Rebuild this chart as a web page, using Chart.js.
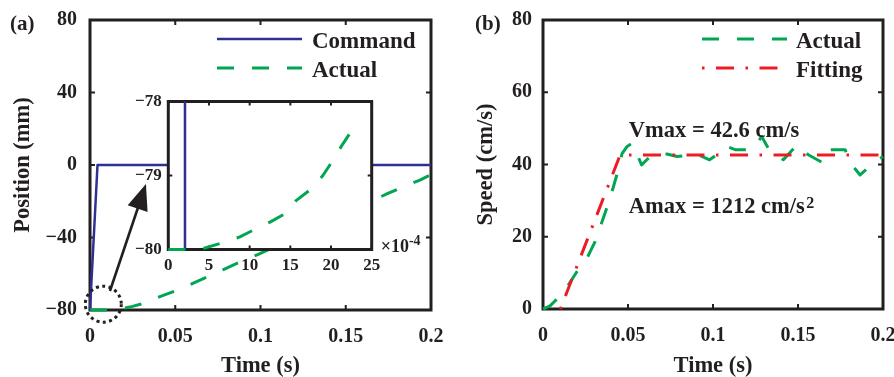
<!DOCTYPE html>
<html>
<head>
<meta charset="utf-8">
<script src="https://cdn.jsdelivr.net/npm/chart.js@4.4.1/dist/chart.umd.min.js"></script>
<style>
  html, body { margin: 0; padding: 0; background: #fff; }
  #wrap { position: relative; width: 894px; height: 377px; overflow: hidden; background: #fff; }
  #wrap canvas { position: absolute; }
  #chart-pos   { left: 0; top: 0; }
  #chart-speed { left: 447px; top: 0; }
  #chart-zoom  { left: 120px; top: 88px; }
</style>
</head>
<body>
<div id="wrap">
  <canvas id="chart-pos" width="447" height="377"></canvas>
  <canvas id="chart-speed" width="447" height="377"></canvas>
  <canvas id="chart-zoom" width="310" height="200"></canvas>
</div>
<script>
// ── Data ──────────────────────────────────────────────────────────────────────
// (a) position step: command vs measured (time in s, position in mm)
const cmdTime   = [0, 0.0044, 0.2];
const cmdPos    = [-80, 0, 0];
const posTime   = [0, 0.005, 0.01, 0.015, 0.0205, 0.025, 0.03, 0.035, 0.041, 0.0508, 0.0616,
                   0.0704, 0.0792, 0.088, 0.0987, 0.12, 0.14, 0.16, 0.1744, 0.1838, 0.1935, 0.2];
const posActual = [-80, -80, -80, -79.6, -78.9, -78.0, -76.7, -75.0, -72.6, -69.2, -64.8,
                   -61.1, -57.3, -53.5, -49.3, -40.0, -31.2, -22.2, -15.8, -12.0, -8.3, -5.3];

// (a) zoomed start (time in 1e-4 s)
const zoomCmdTime = [0, 2.05, 2.05];
const zoomCmdPos  = [-80, -80, -78];
const zoomTime    = [0, 1.84, 4.5, 6.3, 8.8, 10.4, 12.5, 14.3, 15.7, 17.6, 19.0, 20.2, 21.3, 22.5];
const zoomActual  = [-80, -80, -79.98, -79.92, -79.83, -79.74, -79.63, -79.52, -79.34, -79.18, -79.0, -78.8, -78.6, -78.4];

// (b) speed: measured vs trapezoid fit (cm/s)
const speedTime   = [0, 0.004, 0.0072, 0.011, 0.015, 0.020, 0.0259, 0.0307, 0.0358, 0.0398, 0.0437, 0.0465,
                     0.0495, 0.0525, 0.058, 0.063, 0.071, 0.079, 0.091, 0.098, 0.105, 0.108, 0.113, 0.1228,
                     0.1287, 0.1336, 0.1414, 0.1493, 0.156, 0.1649, 0.1688, 0.1777, 0.1816, 0.1865, 0.1943, 0.2];
const speedActual = [0, 0.8, 2.3, 4.5, 6.7, 10.4, 14.1, 18.7, 25.6, 31.2, 37.6, 43.0,
                     45.0, 45.9, 39.9, 42.2, 43.1, 42.2, 42.7, 41.3, 43.6, 45.0, 44.1, 44.1,
                     47.7, 43.6, 41.3, 45.4, 42.7, 40.4, 44.1, 44.1, 39.9, 37.1, 40.4, 42.2];
const VMAX = 42.6;   // cm/s
const AMAX = 1212;   // cm/s^2
const FIT_START = 0.0102;
const fitTime  = [FIT_START, FIT_START + VMAX / AMAX, 0.2];
const fitSpeed = [0, VMAX, VMAX];

// Tick positions
const timeTicks  = [0, 0.05, 0.1, 0.15, 0.2];
const posTicks   = [-80, -40, 0, 40, 80];
const speedTicks = [0, 20, 40, 60, 80];
const zoomXTicks = [0, 5, 10, 15, 20, 25];
const zoomYTicks = [-80, -79, -78];

// ── Style ─────────────────────────────────────────────────────────────────────
const INK   = '#231f20';
const BLUE  = '#2e3192';
const GREEN = '#00a651';
const RED   = '#ed1c24';
const SERIF = '"Liberation Serif", "Times New Roman", serif';
const DASH     = [17, 18];
const DASH_DOT = [2.5, 11.5, 18, 11.5];

const pts = (xs, ys) => xs.map((x, i) => ({ x, y: ys[i] }));
const minus = v => String(v).replace('-', '\u2212');

// fixed box sizes so the plot areas land where we want them
const fixWidth  = w => s => { s.width = w;  s.paddingTop = s.paddingBottom = s.paddingLeft = s.paddingRight = 0; };
const fixHeight = h => s => { s.height = h; s.paddingTop = s.paddingBottom = s.paddingLeft = s.paddingRight = 0; };
const useTicks  = arr => s => { s.ticks = arr.map(value => ({ value })); };

function line(data, color, width, dash) {
  return { data, borderColor: color, borderWidth: width, borderDash: dash || [],
           borderCapStyle: 'butt', borderJoinStyle: 'round',
           pointRadius: 0, tension: 0, fill: false, clip: false };
}

// ── Plugins ───────────────────────────────────────────────────────────────────
// box + inward ticks on all four sides, drawn under the curves
const framePlugin = {
  id: 'frame',
  beforeDraw(chart, args, o) {
    if (!o.fill) return;
    const a = chart.chartArea, ctx = chart.ctx;
    ctx.save(); ctx.fillStyle = o.fill;
    ctx.fillRect(a.left, a.top, a.width, a.height);
    ctx.restore();
  },
  beforeDatasetsDraw(chart, args, o) {
    const { ctx, chartArea: a, scales: { x, y } } = chart;
    const len = o.tickLen || 5;
    ctx.save();
    ctx.strokeStyle = INK;
    ctx.lineWidth = o.tickWidth || 2;
    ctx.beginPath();
    x.ticks.forEach(t => {
      const p = x.getPixelForValue(t.value);
      ctx.moveTo(p, a.bottom); ctx.lineTo(p, a.bottom - len);
      ctx.moveTo(p, a.top);    ctx.lineTo(p, a.top + len);
    });
    y.ticks.forEach(t => {
      const p = y.getPixelForValue(t.value);
      ctx.moveTo(a.left, p);  ctx.lineTo(a.left + len, p);
      ctx.moveTo(a.right, p); ctx.lineTo(a.right - len, p);
    });
    ctx.stroke();
    ctx.lineWidth = o.boxWidth || 3;
    ctx.strokeRect(a.left, a.top, a.width, a.height);
    ctx.restore();
  }
};

// legend entries, panel tag, notes, arrow and marker circle
const notesPlugin = {
  id: 'notes',
  afterDatasetsDraw(chart, args, o) {
    const { ctx, scales: { x, y } } = chart;
    ctx.save();
    ctx.fillStyle = INK;
    ctx.textAlign = 'left';
    ctx.textBaseline = 'alphabetic';

    if (o.tag) {
      ctx.font = `bold 21px ${SERIF}`;
      ctx.fillText(o.tag.text, o.tag.x, o.tag.y);
    }

    (o.legend || []).forEach((it, i) => {
      const ly = o.legendY + i * o.legendGap;
      ctx.save();
      ctx.strokeStyle = it.color;
      ctx.lineWidth = it.width;
      ctx.setLineDash(it.dash || []);
      ctx.beginPath();
      ctx.moveTo(o.legendX0, ly); ctx.lineTo(o.legendX1, ly);
      ctx.stroke();
      ctx.restore();
      ctx.font = `bold 23px ${SERIF}`;
      ctx.fillText(it.label, o.legendTextX, ly + 8.5);
    });

    (o.texts || []).forEach(t => {
      const px = x.getPixelForValue(t.at[0]);
      const py = y.getPixelForValue(t.at[1]);
      ctx.font = `bold 22.5px ${SERIF}`;
      ctx.fillText(t.text, px, py);
      if (t.sup) {
        const w = ctx.measureText(t.text).width;
        ctx.font = `bold 16px ${SERIF}`;
        ctx.fillText(t.sup, px + w + 1.5, py - 4.4);
      }
    });

    if (o.ring) {
      const cx = x.getPixelForValue(o.ring.at[0]);
      const cy = y.getPixelForValue(o.ring.at[1]);
      ctx.save();
      ctx.strokeStyle = INK;
      ctx.lineWidth = 3;
      ctx.setLineDash([3, 3.4]);
      ctx.beginPath();
      ctx.arc(cx, cy, o.ring.r, 0, Math.PI * 2);
      ctx.stroke();
      ctx.restore();
    }

    if (o.arrow) {
      const x0 = x.getPixelForValue(o.arrow.from[0]), y0 = y.getPixelForValue(o.arrow.from[1]);
      const x1 = x.getPixelForValue(o.arrow.to[0]),   y1 = y.getPixelForValue(o.arrow.to[1]);
      const ang = Math.atan2(y1 - y0, x1 - x0);
      const c = Math.cos(ang), s = Math.sin(ang);
      const head = 26, half = 10.5;
      const bx = x1 - head * c, by = y1 - head * s;
      ctx.strokeStyle = INK;
      ctx.lineWidth = 2.6;
      ctx.beginPath();
      ctx.moveTo(x0, y0); ctx.lineTo(bx + 2 * c, by + 2 * s);
      ctx.stroke();
      ctx.beginPath();
      ctx.moveTo(x1, y1);
      ctx.lineTo(bx - half * s, by + half * c);
      ctx.lineTo(bx + half * s, by - half * c);
      ctx.closePath();
      ctx.fill();
    }

    if (o.exponent) {
      const a = chart.chartArea;
      ctx.font = `bold 18px ${SERIF}`;
      ctx.fillText('\u00d710', a.right + 9, a.bottom + 2.5);
      const w = ctx.measureText('\u00d710').width;
      ctx.font = `bold 14px ${SERIF}`;
      ctx.fillText(o.exponent, a.right + 9 + w, a.bottom - 5);
    }
    ctx.restore();
  }
};

Chart.register(framePlugin, notesPlugin);
Chart.defaults.font.family = SERIF;
Chart.defaults.color = INK;

function axis(opts) {
  return {
    type: 'linear',
    min: opts.min, max: opts.max,
    grid: { display: false, drawTicks: false },
    border: { display: false },
    afterBuildTicks: useTicks(opts.ticks),
    afterFit: opts.afterFit,
    ticks: {
      autoSkip: false, maxRotation: 0, padding: opts.pad,
      font: { size: opts.size || 20, weight: 'bold' },
      color: INK,
      callback: opts.fmt || (v => minus(v))
    },
    title: opts.title ? {
      display: true, text: opts.title, color: INK,
      font: { size: 22.5, weight: 'bold', lineHeight: 1 },
      padding: opts.titlePad || 0
    } : { display: false }
  };
}

const base = {
  animation: false,
  responsive: false,
  events: [],
  devicePixelRatio: 1
};

// ── (a) Position ──────────────────────────────────────────────────────────────
new Chart(document.getElementById('chart-pos'), {
  type: 'line',
  data: {
    datasets: [
      line(pts(posTime, posActual), GREEN, 3, DASH),
      line(pts(cmdTime, cmdPos), BLUE, 2.5)
    ]
  },
  options: {
    ...base,
    layout: { padding: { left: 0, top: 20, right: 16, bottom: 0 } },
    scales: {
      x: axis({ min: 0, max: 0.2, ticks: timeTicks, pad: 15, afterFit: fixHeight(67),
                fmt: v => String(v), title: 'Time (s)' }),
      y: axis({ min: -80, max: 80, ticks: posTicks, pad: 13, afterFit: fixWidth(90),
                title: 'Position (mm)', titlePad: { top: 12 } })
    },
    plugins: {
      legend: { display: false }, tooltip: { enabled: false },
      frame: { boxWidth: 3, tickLen: 5 },
      notes: {
        tag: { text: '(a)', x: 10, y: 30 },
        legendX0: 217, legendX1: 302, legendTextX: 312, legendY: 39, legendGap: 29,
        legend: [
          { label: 'Command', color: BLUE, width: 2.5 },
          { label: 'Actual', color: GREEN, width: 3, dash: DASH }
        ],
        ring: { at: [0.0078, -76.8], r: 18 },
        arrow: { from: [0.0117, -69.5], to: [0.0328, -10.5] }
      }
    }
  }
});

// ── (a) inset: first 2.5 ms ───────────────────────────────────────────────────
new Chart(document.getElementById('chart-zoom'), {
  type: 'line',
  data: {
    datasets: [
      line(pts(zoomTime, zoomActual), GREEN, 3, DASH),
      line(pts(zoomCmdTime, zoomCmdPos), BLUE, 2.5)
    ]
  },
  options: {
    ...base,
    layout: { padding: { left: 0, top: 13.5, right: 58.3, bottom: 0 } },
    scales: {
      x: axis({ min: 0, max: 25, ticks: zoomXTicks, pad: 6.3, size: 17, afterFit: fixHeight(38.5) }),
      y: axis({ min: -80, max: -78, ticks: zoomYTicks, pad: 6.6, size: 17, afterFit: fixWidth(48.3) })
    },
    plugins: {
      legend: { display: false }, tooltip: { enabled: false },
      frame: { fill: '#ffffff', boxWidth: 3, tickLen: 4 },
      notes: { exponent: '-4' }
    }
  }
});

// ── (b) Speed ─────────────────────────────────────────────────────────────────
new Chart(document.getElementById('chart-speed'), {
  type: 'line',
  data: {
    datasets: [
      line(pts(fitTime, fitSpeed), RED, 3, DASH_DOT),
      line(pts(speedTime, speedActual), GREEN, 3, DASH)
    ]
  },
  options: {
    ...base,
    layout: { padding: { left: 0, top: 20, right: 11, bottom: 0 } },
    scales: {
      x: axis({ min: 0, max: 0.2, ticks: timeTicks, pad: 15, afterFit: fixHeight(68),
                fmt: v => String(v), title: 'Time (s)' }),
      y: axis({ min: 0, max: 80, ticks: speedTicks, pad: 11, afterFit: fixWidth(96),
                title: 'Speed (cm/s)', titlePad: { top: 28 } })
    },
    plugins: {
      legend: { display: false }, tooltip: { enabled: false },
      frame: { boxWidth: 3, tickLen: 5 },
      notes: {
        tag: { text: '(b)', x: 28, y: 30 },
        legendX0: 255, legendX1: 340, legendTextX: 349, legendY: 39, legendGap: 29,
        legend: [
          { label: 'Actual', color: GREEN, width: 3, dash: DASH },
          { label: 'Fitting', color: RED, width: 3, dash: DASH_DOT }
        ],
        texts: [
          { text: `Vmax = ${VMAX} cm/s`, at: [0.0505, 47.7] },
          { text: `Amax = ${AMAX} cm/s`, sup: '2', at: [0.0505, 26.7] }
        ]
      }
    }
  }
});
</script>
</body>
</html>
